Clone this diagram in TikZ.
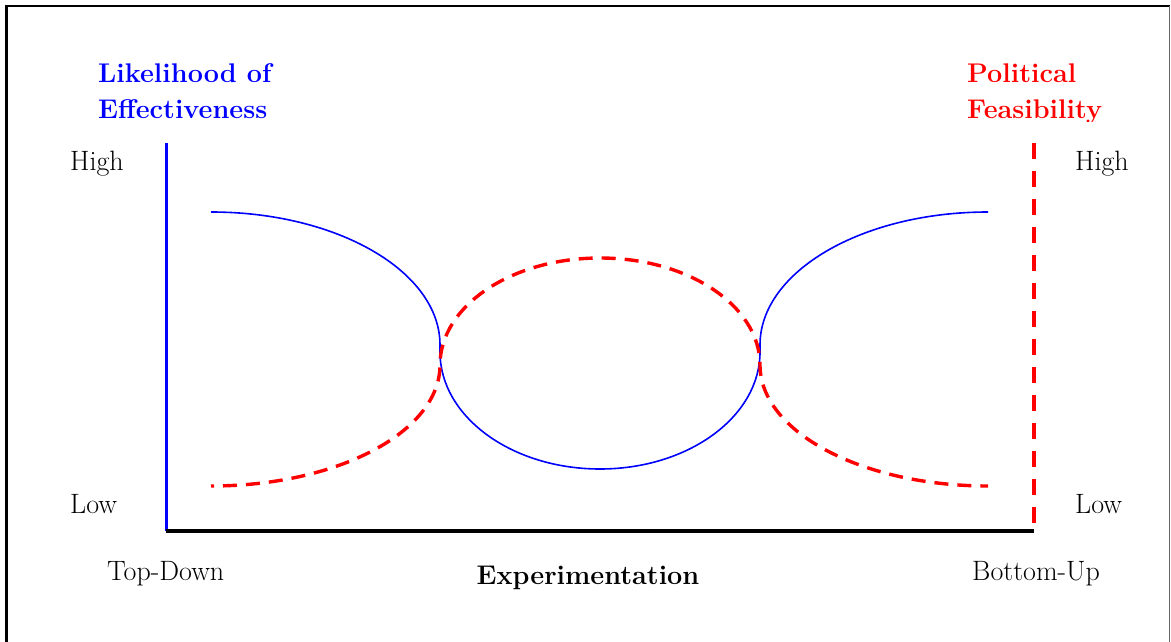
\documentclass[tikz,border=0pt]{standalone}
\begin{document}
\begin{tikzpicture}[x=1pt,y=-1pt,
  lbl/.style={anchor=base west,inner sep=0pt,font=\fontsize{28}{33}\selectfont},
  ttl/.style={anchor=base west,inner sep=0pt,font=\fontsize{27}{32}\selectfont\bfseries},
  bluecurve/.style={draw={rgb,255:red,0;green,0;blue,255},line width=1.6pt},
  redcurve/.style={draw={rgb,255:red,255;green,0;blue,0},line width=3.4pt,dash pattern=on 14pt off 9pt,dash phase=11pt}]
\useasboundingbox (0,0) rectangle (1171,642);
% frame
\draw[line width=2.6pt] (6.5,642) -- (6.5,6.2) -- (1170,6.2);
\draw[line width=1.7pt,black!60] (1169.5,6.2) -- (1169.5,642);
% axes
\coordinate (ytop) at (166.3,143);
\coordinate (orig) at (166.3,531);
\coordinate (xend) at (1034,531);
\coordinate (rtop) at (1034,143);
\coordinate (rbot) at (1034,526);
\draw[draw={rgb,255:red,0;green,0;blue,255},line width=3.4pt] (ytop) -- (orig);
\draw[line width=4pt] (orig) -- (xend);
\draw[red,line width=3.4pt,dash pattern=on 16pt off 12pt] (rtop) -- (rbot);
% blue curve
\draw[bluecurve] (211,212) arc[start angle=270,end angle=360,x radius=229,y radius=133]
  -- (440,352) arc[start angle=180,end angle=0,x radius=160,y radius=117]
  -- (760,345) arc[start angle=180,end angle=270,x radius=228,y radius=133];
% red curve
\draw[redcurve] (211,486) arc[start angle=90,end angle=0,x radius=229,y radius=121]
  arc[start angle=180,end angle=360,x radius=160,y radius=107]
  arc[start angle=180,end angle=90,x radius=228,y radius=121];
% titles
\node[ttl,text={rgb,255:red,0;green,0;blue,255}] (le1) at (98,82) {Likelihood of};
\node[ttl,text={rgb,255:red,0;green,0;blue,255}] (le2) at (98,118) {Effectiveness};
\node[ttl,text=red] (pf1) at (967,82) {Political};
\begin{scope}
\clip (900,90) rectangle (1120,121);
\node[ttl,text=red] (pf2) at (967,118) {Feasibility};
\end{scope}
% scale labels
\node[lbl] (hl) at (70,170) {High};
\node[lbl] (hr) at (1075,170) {High};
\node[lbl] (ll) at (70,513) {Low};
\node[lbl] (lr) at (1075,513) {Low};
\node[lbl] (td) at (107,580) {Top-Down};
\node[lbl] (bu) at (972,580) {Bottom-Up};
\node[ttl,anchor=base] (ex) at (588,584) {Experimentation};
\end{tikzpicture}
\end{document}
